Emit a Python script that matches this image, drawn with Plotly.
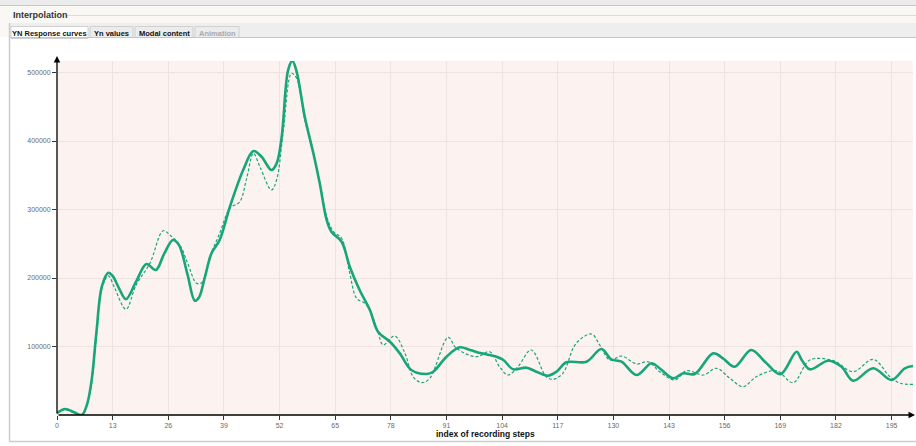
import plotly.graph_objects as go

# Response curve (interpolated, solid) sampled along the recording steps
solid_steps = [0, 1.9, 4, 5.8, 7, 8.1, 9.2, 10.5, 12.0, 13, 14.5, 16.1, 18.5, 20.9, 23.1,
               25, 27.1, 28.5, 30.5, 32.2, 33.2, 34.5, 36.1, 38, 40.4, 43.5, 45.9, 47.8,
               50.1, 51.3, 52.5, 54.0, 55.0, 56.0, 57.9, 59.9, 61.4, 63.0, 64.1, 66.5,
               68.4, 70.7, 73.1, 75.0, 77.8, 80.1, 82.8, 86.3, 87.9, 91.0, 94.1, 96.5,
               99.2, 102.7, 104.3, 106.6, 109.7, 112.0, 114.7, 116.7, 119.0, 123.7,
               127.2, 129.5, 131.9, 135.4, 138.9, 140.8, 144.0, 146.3, 149.0, 153.3,
               155.6, 158.3, 162.2, 165.4, 169.0, 172.8, 174.0, 175.9, 180.2, 183.3,
               186.0, 190.7, 195.0, 198.1, 200.0]
solid_values = [3000, 8800, 4000, 0, 15000, 51000, 120000, 188000, 207700, 203000, 185000,
                169000, 195000, 220400, 211700, 235000, 255500, 248000, 205000, 166900,
                172000, 200000, 236000, 255500, 304000, 357700, 385400, 377000, 357700,
                367000, 406000, 503600, 517000, 501000, 435000, 382000, 338000, 284700,
                267600, 253000, 216500, 182500, 153300, 121600, 107000, 90000, 65700,
                59900, 63200, 85100, 98800, 94900, 90000, 85100, 80300, 66700, 69100,
                63200, 57400, 63200, 76900, 77800, 96400, 81300, 77800, 58400, 75500,
                68200, 53600, 60900, 59900, 90000, 82800, 70500, 94900, 77800, 59500,
                92400, 80300, 66700, 79300, 70500, 50100, 68200, 51100, 68200, 71500]

# Measured response (dashed)
dashed_steps = [0, 1.9, 4, 5.8, 7, 8.1, 9.2, 10.5, 12.0, 13.5, 16.1, 18.5, 21.7, 24.8,
                26.5, 28.7, 30.5, 32.6, 33.8, 35.7, 38, 40.4, 42.7, 44.3, 45.9, 47.4,
                50.1, 51.3, 52.9, 54.8, 56.0, 57.9, 59.9, 61.4, 63, 64.6, 66.5, 68.4,
                70.0, 71.9, 73.1, 75.0, 76.2, 78.9, 81.3, 83.2, 85.2, 87.1, 91.4, 93.3,
                98, 101.1, 103.4, 105.4, 107.7, 110.8, 114.3, 115.9, 118.2, 121.3, 124.9,
                126.8, 129.2, 131.9, 135.4, 138.1, 140.8, 144.4, 147.1, 151, 154.1,
                157.2, 160.3, 163.4, 168.1, 172.0, 175.9, 181.4, 186, 190.7, 194.6,
                197, 200]
dashed_values = [2000, 8000, 3000, 0, 15000, 48000, 115000, 185000, 203000, 185000,
                 154300, 190000, 221500, 269000, 262000, 248000, 222000, 192300, 193100,
                 231100, 265000, 301700, 311400, 345000, 382000, 362500, 328500, 343000,
                 416000, 498800, 491500, 430700, 382000, 338000, 290000, 267600, 258000,
                 206900, 170400, 163100, 153300, 121600, 102200, 115300, 90000, 55900,
                 47200, 53600, 113400, 97400, 85100, 92400, 70500, 58400, 70500, 94900,
                 55900, 52000, 60900, 104700, 118200, 102200, 80300, 86100, 74500, 77800,
                 63200, 51100, 64700, 58400, 68200, 53600, 41300, 55900, 64700, 47200,
                 80300, 79300, 63200, 81300, 55900, 46300, 44800]

x_ticks = list(range(0, 196, 13))
y_ticks = [100000, 200000, 300000, 400000, 500000]
tab_labels = ["YN Response curves", "Yn values", "Modal content", "Animation"]

W, H = 916, 446
L, R, T, B = 57, 913, 61, 415
GREEN = "#17a57a"


def px(x):
    return (x - L) / (R - L)


def py(y):
    return (B - y) / (B - T)


fig = go.Figure()
fig.add_trace(go.Scatter(x=dashed_steps, y=dashed_values, mode="lines",
                         line=dict(color=GREEN, width=1.2, dash="3px,2px", shape="spline", smoothing=1.0),
                         hoverinfo="skip", showlegend=False))
fig.add_trace(go.Scatter(x=solid_steps, y=solid_values, mode="lines",
                         line=dict(color=GREEN, width=2.6, shape="spline", smoothing=1.0),
                         hoverinfo="skip", showlegend=False))

shapes = []
# page chrome: top strip, panel header, tab bar and panel border
shapes.append(dict(type="rect", xref="paper", yref="paper", x0=px(0), x1=px(W), y0=py(0), y1=py(5.5),
                   fillcolor="#ececec", line=dict(width=0), layer="below"))
shapes.append(dict(type="line", xref="paper", yref="paper", x0=px(0), x1=px(W), y0=py(5.5), y1=py(5.5),
                   line=dict(color="#cfc9c2", width=1)))
shapes.append(dict(type="rect", xref="paper", yref="paper", x0=px(0), x1=px(W), y0=py(6), y1=py(37),
                   fillcolor="#f9f8f4", line=dict(width=0), layer="below"))
shapes.append(dict(type="rect", xref="paper", yref="paper", x0=px(10), x1=px(W), y0=py(23), y1=py(37.5),
                   fillcolor="#eeeeee", line=dict(width=0), layer="below"))
shapes.append(dict(type="line", xref="paper", yref="paper", x0=px(66), x1=px(W), y0=py(15.5), y1=py(15.5),
                   line=dict(color="#dcdcdc", width=1)))
shapes.append(dict(type="line", xref="paper", yref="paper", x0=px(10), x1=px(W), y0=py(37.5), y1=py(37.5),
                   line=dict(color="#c6c6c6", width=1)))
shapes.append(dict(type="line", xref="paper", yref="paper", x0=px(9.5), x1=px(9.5), y0=py(23), y1=py(441.5),
                   line=dict(color="#cccccc", width=1.5)))
shapes.append(dict(type="line", xref="paper", yref="paper", x0=px(9.5), x1=px(W), y0=py(441.5), y1=py(441.5),
                   line=dict(color="#cccccc", width=1.5)))

tab_edges = [(11, 88), (90, 133), (135, 193), (195, 239)]
annotations = []
for i, ((a, b), lab) in enumerate(zip(tab_edges, tab_labels)):
    active = i == 0
    shapes.append(dict(type="rect", xref="paper", yref="paper", x0=px(a), x1=px(b),
                       y0=py(38.5 if active else 37.5), y1=py(26.5),
                       fillcolor="#ffffff" if active else "#ececec",
                       line=dict(color="#d0d0d0", width=1), layer="below"))
    annotations.append(dict(xref="paper", yref="paper", x=px((a + b) / 2), y=py(33),
                            text="<b>" + lab + "</b>",
                            showarrow=False, xanchor="center", yanchor="middle",
                            font=dict(family="Liberation Sans, Arial", size=7.5,
                                      color="#aaaaaa" if lab == "Animation" else "#111111")))

annotations.append(dict(xref="paper", yref="paper", x=px(11), y=py(15), text="<b>Interpolation</b>",
                        showarrow=False, xanchor="left", yanchor="middle",
                        font=dict(family="Liberation Sans, Arial", size=9, color="#333333")))

# axes drawn as arrows from the origin
annotations.append(dict(xref="paper", yref="paper", x=px(57), y=py(56), ax=0, ay=359,
                        axref="pixel", ayref="pixel", text="", showarrow=True,
                        arrowhead=2, arrowsize=1, arrowwidth=1.3, arrowcolor="#000000"))
annotations.append(dict(xref="paper", yref="paper", x=px(916), y=py(415), ax=-859, ay=0,
                        axref="pixel", ayref="pixel", text="", showarrow=True,
                        arrowhead=2, arrowsize=1, arrowwidth=1.3, arrowcolor="#000000"))

annotations.append(dict(xref="paper", yref="paper", x=0.5, y=py(434), text="<b>index of recording steps</b>",
                        showarrow=False, xanchor="center", yanchor="middle",
                        font=dict(family="Liberation Sans, Arial", size=8.5, color="#111111")))

tick_font = dict(family="Liberation Sans, Arial", size=7, color="#6a6a6a")
fig.update_layout(
    width=W, height=H,
    margin=dict(l=L, r=W - R, t=T, b=H - B, autoexpand=False),
    paper_bgcolor="#ffffff",
    plot_bgcolor="#fcf3f0",
    shapes=shapes,
    annotations=annotations,
    xaxis=dict(range=[0, 200], tickvals=x_ticks, ticktext=[str(v) for v in x_ticks],
               showgrid=True, gridcolor="#eee3e0", gridwidth=1, zeroline=False, showline=False,
               ticks="outside", ticklen=4, tickcolor="#333333", tickfont=tick_font),
    yaxis=dict(range=[0, 516800], tickvals=y_ticks, ticktext=[str(v) for v in y_ticks],
               showgrid=True, gridcolor="#eee3e0", gridwidth=1, zeroline=False, showline=False,
               ticks="outside", ticklen=4, tickcolor="#333333", ticklabelstandoff=0,
               tickfont=tick_font),
)

fig.write_html("out.html")
